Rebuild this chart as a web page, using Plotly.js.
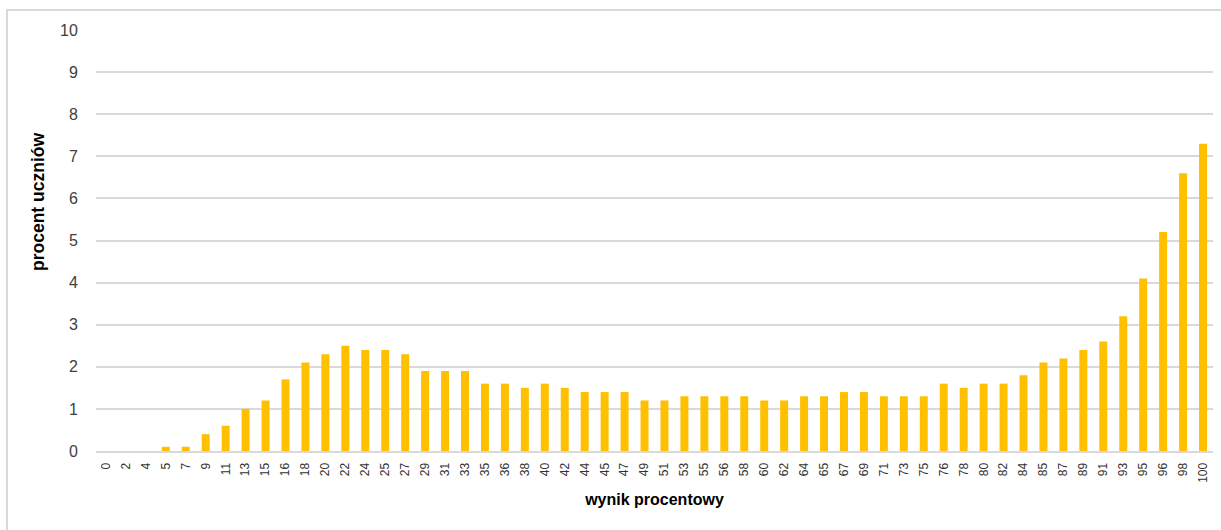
<!DOCTYPE html>
<html>
<head>
<meta charset="utf-8">
<script src="https://cdn.plot.ly/plotly-3.0.1.min.js"></script>
<style>
  html, body { margin: 0; padding: 0; background: #ffffff; overflow: hidden; }
  #frame { position: absolute; left: 6px; top: 9px; width: 1400px; height: 700px; border: 2px solid #d9d9d9; box-sizing: border-box; }
  #chart { position: absolute; left: 0; top: 0; width: 1221px; height: 530px; }
</style>
</head>
<body>
<div id="frame"></div>
<div id="chart"></div>
<script>
const categories = ["0","2","4","5","7","9","11","13","15","16","18","20","22","24","25","27","29","31","33","35","36","38","40","42","44","45","47","49","51","53","55","56","58","60","62","64","65","67","69","71","73","75","76","78","80","82","84","85","87","89","91","93","95","96","98","100"];
const values = [0,0,0,0.1,0.1,0.4,0.6,1.0,1.2,1.7,2.1,2.3,2.5,2.4,2.4,2.3,1.9,1.9,1.9,1.6,1.6,1.5,1.6,1.5,1.4,1.4,1.4,1.2,1.2,1.3,1.3,1.3,1.3,1.2,1.2,1.3,1.3,1.4,1.4,1.3,1.3,1.3,1.6,1.5,1.6,1.6,1.8,2.1,2.2,2.4,2.6,3.2,4.1,5.2,6.6,7.3];
const yTicks = [0,1,2,3,4,5,6,7,8,9,10];
const xTitle = "wynik procentowy";
const yTitle = "procent uczniów";

const fontFam = "'Liberation Sans', 'DejaVu Sans', sans-serif";

Plotly.newPlot('chart', [{
  type: 'bar',
  x: categories,
  y: values,
  marker: { color: '#ffc000' },
  hoverinfo: 'x+y'
}], {
  width: 1221,
  height: 530,
  margin: { l: 96, r: 8, t: 30, b: 79, pad: 0 },
  paper_bgcolor: 'rgba(0,0,0,0)',
  plot_bgcolor: 'rgba(0,0,0,0)',
  bargap: 0.6,
  showlegend: false,
  xaxis: {
    type: 'category',
    tickangle: -90,
    tickfont: { family: fontFam, size: 12, color: '#333333' },
    showgrid: false,
    showline: true,
    linecolor: '#d9d9d9',
    linewidth: 2,
    ticks: 'outside',
    ticklen: 5,
    tickcolor: 'rgba(0,0,0,0)',
    automargin: false,
    title: { text: xTitle, font: { family: fontFam, size: 16, color: '#000000', weight: 'bold' }, standoff: 12 }
  },
  yaxis: {
    range: [0, 10],
    tickvals: yTicks,
    ticktext: yTicks.map(String),
    tickfont: { family: fontFam, size: 16, color: '#404040' },
    showgrid: true,
    gridcolor: '#d9d9d9',
    gridwidth: 2,
    zeroline: false,
    showline: false,
    ticks: 'outside',
    ticklen: 14,
    tickcolor: 'rgba(0,0,0,0)',
    automargin: false
  },
  annotations: [{
    text: yTitle,
    xref: 'paper', yref: 'paper',
    x: (38 - 96) / 1117, y: (451 - 202) / 421,
    xanchor: 'center', yanchor: 'middle',
    textangle: -90,
    showarrow: false,
    font: { family: fontFam, size: 17.5, color: '#000000', weight: 'bold' }
  }]
}, { displayModeBar: false, staticPlot: true });
</script>
</body>
</html>
